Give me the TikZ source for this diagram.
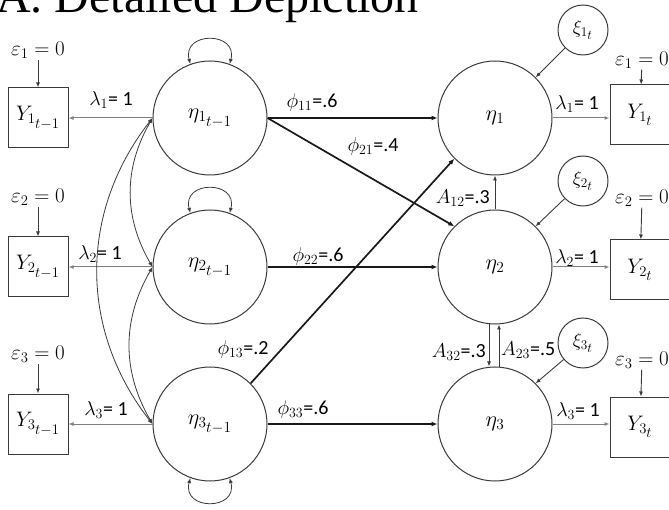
\RequirePackage{fix-cm}
\documentclass[tikz,border=0pt]{standalone}
\usepackage{fontspec}
\setmainfont{Carlito}
\newfontfamily\titlefont{Liberation Serif}
\usetikzlibrary{arrows.meta,positioning,calc}
\definecolor{semdark}{HTML}{3A3A3A}
\definecolor{semgray}{HTML}{808080}
\newcommand{\lagof}[2]{#1_{#2_{\scriptstyle t-1}}}
\newcommand{\nowof}[2]{#1_{#2_{\scriptstyle t}}}
\tikzset{
  latent/.style={circle,draw=semdark,line width=1pt,minimum size=114pt,inner sep=0pt,font=\fontsize{22}{26}\selectfont},
  manifest/.style={rectangle,draw=semdark,line width=1pt,minimum size=60pt,inner sep=0pt,font=\fontsize{21}{25}\selectfont},
  shock/.style={circle,draw=semdark,line width=1pt,minimum size=50pt,inner sep=0pt,font=\fontsize{19}{23}\selectfont},
  lbl/.style={inner sep=1pt,font=\fontsize{20}{24}\selectfont},
  err lbl/.style={inner sep=1pt,font=\fontsize{21}{25}\selectfont},
  effect/.style={-{Latex[length=6pt,width=5pt]},line width=1.7pt,black!90},
  load/.style={-{Latex[length=5pt,width=4pt]},semgray,line width=1pt},
  err/.style={-{Latex[length=5pt,width=4pt]},semdark,line width=0.9pt},
  cov/.style={{Latex[length=5pt,width=4pt]}-{Latex[length=5pt,width=4pt]},semdark,line width=0.8pt},
}

\begin{document}
\begin{tikzpicture}[x=1pt,y=-1pt]
  \useasboundingbox (0,0) rectangle (669,510);
  \node[anchor=base west,inner sep=0pt,font=\titlefont\fontsize{48}{56}\selectfont] (title) at (-4,13) {A. Detailed Depiction};

  % time t-1
  \foreach \i/\y/\e in {1/118/50,2/267/197,3/424/354} {
    \node[latent] (lag\i) at (210,\y) {$\lagof{\eta}{\i}$};
    \node[manifest] (ylag\i) at (38,\y) {$\lagof{Y}{\i}$};
    \node[err lbl] (elag\i) at (38,\e) {$\varepsilon_\i = 0$};
    \draw[err] (elag\i) -- (ylag\i);
    \draw[load] (lag\i) -- (ylag\i);
  }
  % time t
  \foreach \i/\y/\b/\e/\s in {1/118/115/60/30,2/267/270/198/181,3/424/427/360/343} {
    \node[latent] (cur\i) at (495,\y) {$\eta_\i$};
    \node[manifest] (ycur\i) at (640,\b) {$\nowof{Y}{\i}$};
    \node[err lbl] (ecur\i) at (642,\e) {$\varepsilon_\i = 0$};
    \node[shock] (xi\i) at (583,\s) {$\nowof{\xi}{\i}$};
    \draw[err] (ecur\i) -- (ycur\i);
    \draw[load] (cur\i.east) -- (cur\i.east -| ycur\i.west);
    \draw[err] (xi\i) -- (cur\i.45);
  }

  \foreach \p/\l in {(111,100)/1,(100,254)/2,(106,410)/3}
    \node[lbl] at \p {$\lambda_\l$= 1};
  \foreach \p/\l in {(577,104)/1,(577,258)/2,(578,411)/3}
    \node[lbl] at \p {$\lambda_\l$= 1};

  \draw[effect] (lag1) -- (cur1);
  \draw[effect] (lag1.east) -- (cur2.135);
  \draw[effect] (lag2) -- (cur2);
  \draw[effect] (lag3.45) -- (cur1.225);
  \draw[effect] (lag3) -- (cur3);
  \node[lbl] at (312,103) {$\phi_{11}$=.6};
  \node[lbl] at (373,147) {$\phi_{21}$=.4};
  \node[lbl] at (318,257) {$\phi_{22}$=.6};
  \node[lbl] at (243,350) {$\phi_{13}$=.2};
  \node[lbl] at (303,409) {$\phi_{33}$=.6};

  \draw[err] (cur2) -- (cur1);
  \draw[err] ([xshift=-6]cur2.south) -- ([xshift=-6]cur3.north);
  \draw[err] ([xshift=4]cur3.north) -- ([xshift=4]cur2.south);
  \node[lbl,anchor=east] at (491,198) {$A_{12}$=.3};
  \node[lbl,anchor=east] at (487,352) {$A_{32}$=.3};
  \node[lbl,anchor=west] at (500,350) {$A_{23}$=.5};

  \draw[cov] (lag1.west) to[bend right=30] (lag2.west);
  \draw[cov] (lag2.west) to[bend right=30] (lag3.west);
  \draw[cov] (lag1.west) to[bend right=38] (lag3.west);
  \draw[cov] (lag1.110) .. controls +(105:34pt) and +(75:34pt) .. (lag1.70);
  \draw[cov] (lag2.110) .. controls +(105:34pt) and +(75:34pt) .. (lag2.70);
  \draw[cov] (lag3.250) .. controls +(255:34pt) and +(285:34pt) .. (lag3.290);
\end{tikzpicture}
\end{document}
